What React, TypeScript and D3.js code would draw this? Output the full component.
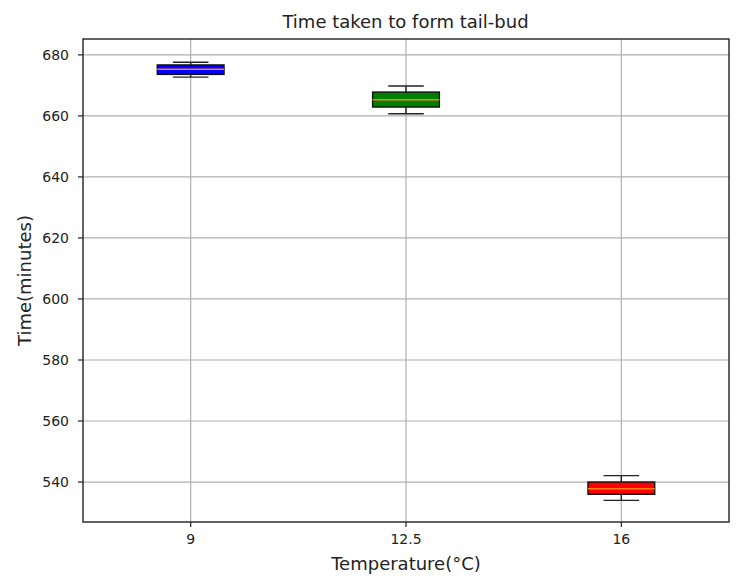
import React from "react";
import * as d3 from "d3";

const categories = ["9", "12.5", "16"];
const whiskerLow = [672.7, 660.7, 534.0];
const q1 = [673.6, 662.9, 536.0];
const medians = [675.3, 665.3, 537.8];
const q3 = [676.7, 667.8, 540.0];
const whiskerHigh = [677.6, 669.8, 542.1];
const fills = ["blue", "green", "red"];
const yTicks = [540, 560, 580, 600, 620, 640, 660, 680];

const W = 737, H = 576;
const L = 83, R = 729, T = 39, B = 522;

export default function App() {
  const x = d3.scaleLinear().domain([0.5, 3.5]).range([L, R]);
  const y = d3.scaleLinear().domain([526.9, 685.2]).range([B, T]);
  const font = "DejaVu Sans, sans-serif";
  const boxW = 0.31;
  const capW = 0.165;
  return (
    <svg width={W} height={H} style={{ position: "absolute", left: 0, top: 0, background: "white" }}>
      {categories.map((c, i) => (
        <line key={"gx" + c} x1={x(i + 1)} x2={x(i + 1)} y1={T} y2={B} stroke="#b0b0b0" strokeWidth={1.2} />
      ))}
      {yTicks.map((t) => (
        <line key={"gy" + t} x1={L} x2={R} y1={y(t)} y2={y(t)} stroke="#b0b0b0" strokeWidth={1.2} />
      ))}
      {categories.map((c, i) => {
        const cx = x(i + 1);
        const bx0 = x(i + 1 - boxW / 2);
        const bx1 = x(i + 1 + boxW / 2);
        const cx0 = x(i + 1 - capW / 2);
        const cx1 = x(i + 1 + capW / 2);
        return (
          <g key={"b" + c}>
            <line x1={cx} x2={cx} y1={y(q1[i])} y2={y(whiskerLow[i])} stroke="#222" strokeWidth={1.4} />
            <line x1={cx} x2={cx} y1={y(q3[i])} y2={y(whiskerHigh[i])} stroke="#222" strokeWidth={1.4} />
            <line x1={cx0} x2={cx1} y1={y(whiskerLow[i])} y2={y(whiskerLow[i])} stroke="#222" strokeWidth={1.4} />
            <line x1={cx0} x2={cx1} y1={y(whiskerHigh[i])} y2={y(whiskerHigh[i])} stroke="#222" strokeWidth={1.4} />
            <rect x={bx0} y={y(q3[i])} width={bx1 - bx0} height={y(q1[i]) - y(q3[i])} fill={fills[i]} stroke="#111" strokeWidth={1.4} />
            <line x1={bx0} x2={bx1} y1={y(medians[i])} y2={y(medians[i])} stroke="#ff7f0e" strokeWidth={1.4} />
          </g>
        );
      })}
      <rect x={L} y={T} width={R - L} height={B - T} fill="none" stroke="#222" strokeWidth={1.4} />
      {yTicks.map((t) => (
        <g key={"yt" + t}>
          <line x1={L - 5} x2={L} y1={y(t)} y2={y(t)} stroke="#222" strokeWidth={1.2} />
          <text x={L - 14} y={y(t)} dy="0.35em" textAnchor="end" fontFamily={font} fontSize={14} fill="#222">{t}</text>
        </g>
      ))}
      {categories.map((c, i) => (
        <g key={"xt" + c}>
          <line x1={x(i + 1)} x2={x(i + 1)} y1={B} y2={B + 5} stroke="#222" strokeWidth={1.2} />
          <text x={x(i + 1)} y={B + 17} dy="0.35em" textAnchor="middle" fontFamily={font} fontSize={14} fill="#222">{c}</text>
        </g>
      ))}
      <text x={(L + R) / 2 - 0.5} y={22} dy="0.35em" textAnchor="middle" fontFamily={font} fontSize={18} fill="#222">Time taken to form tail-bud</text>
      <text x={(L + R) / 2} y={564} dy="0.35em" textAnchor="middle" fontFamily={font} fontSize={18} fill="#222">Temperature(°C)</text>
      <text transform={`translate(25,${(T + B) / 2}) rotate(-90)`} dy="0.35em" textAnchor="middle" fontFamily={font} fontSize={18} fill="#222">Time(minutes)</text>
    </svg>
  );
}
